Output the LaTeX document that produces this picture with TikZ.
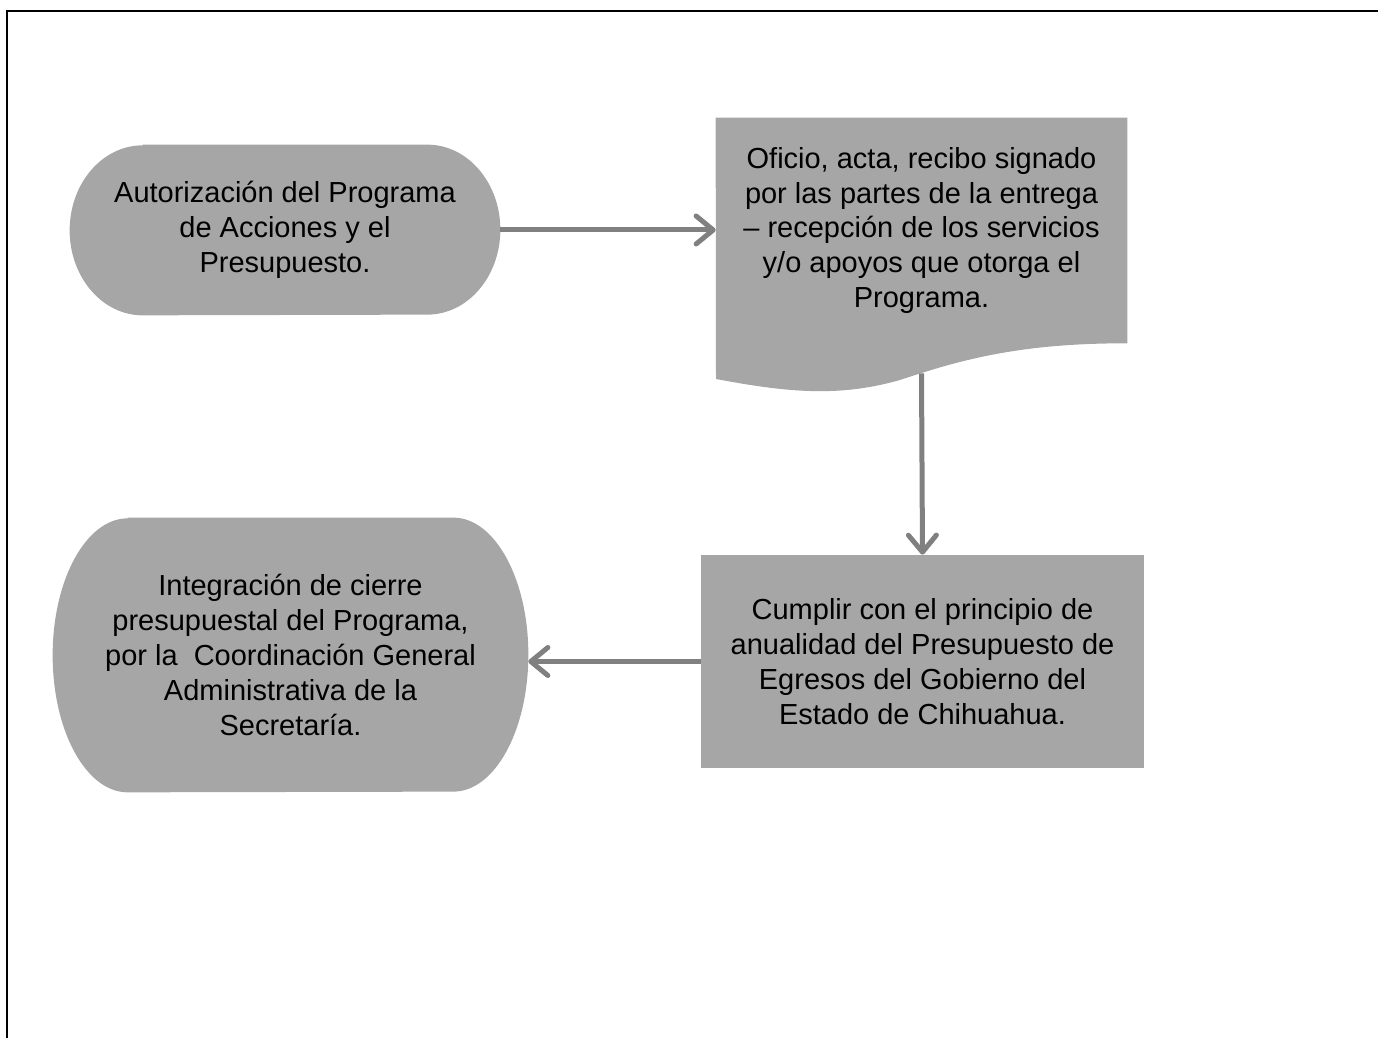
\documentclass[tikz,border=0pt]{standalone}
\usepackage{fontspec}
\setmainfont{Liberation Sans}
\usetikzlibrary{arrows.meta,backgrounds}
\definecolor{boxgray}{HTML}{A6A6A6}
\definecolor{arrowgray}{HTML}{808080}
\tikzset{
  flowtext/.style={rectangle,align=center,inner sep=0pt,font=\fontsize{16.5}{19.8}\selectfont},
  flowarrow/.style={draw=arrowgray,line width=0.1cm,-{Straight Barb[length=3.4mm,width=5.6mm,round]}}
}
% terminal: flat top and bottom, half-ellipse ends
\newcommand{\termfill}[3]{%
  \fill[boxgray] ([xshift=#2]#1.north west) -- ([xshift=-#2]#1.north east)
    arc[start angle=90,end angle=-90,x radius=#2,y radius=#3]
    -- ([xshift=#2]#1.south west)
    arc[start angle=270,end angle=90,x radius=#2,y radius=#3] -- cycle;}

\begin{document}
\begin{tikzpicture}
    \useasboundingbox (0,0) rectangle (27.56,20.76);
    \draw[line width=0.05cm] (0.14,0) -- (0.14,20.54) -- (27.56,20.54);

    \node (aut) at (5.70,16.16) [flowtext,minimum width=8.6cm,minimum height=3.4cm]
      {Autorización del Programa\\de Acciones y el\\Presupuesto.};
    \node (ofi) at (18.43,16.15) [flowtext,minimum width=8.22cm,minimum height=4.5cm]
      {Oficio, acta, recibo signado\\por las partes de la entrega\\– recepción de los servicios\\y/o apoyos que otorga el\\Programa.};
    \node (cum) at (18.45,7.53) [flowtext,minimum width=8.86cm,minimum height=4.26cm,fill=boxgray]
      {Cumplir con el principio de\\anualidad del Presupuesto de\\Egresos del Gobierno del\\Estado de Chihuahua.};
    \node (int) at (5.81,7.66) [flowtext,minimum width=9.5cm,minimum height=5.48cm]
      {Integración de cierre\\presupuestal del Programa,\\por la\ \ Coordinación General\\Administrativa de la\\Secretaría.};

    \begin{scope}[on background layer]
      \termfill{aut}{1.46cm}{1.7cm}
      \termfill{int}{1.5cm}{2.74cm}
      \fill[boxgray] (ofi.north west) -- (ofi.north east) -- (ofi.south east)
        .. controls (20.40,13.90) and (19.20,13.56) .. (18.00,13.16)
        .. controls (16.80,12.82) and (15.80,12.90) .. (14.32,13.18) -- cycle;
    \end{scope}

    \draw[flowarrow] (aut.east) -- (aut.east -| ofi.west);
    \draw[flowarrow] ([yshift=-0.6cm]ofi.south) -- (cum.north);
    \draw[flowarrow] (cum.west) -- (cum.west -| int.east);
\end{tikzpicture}
\end{document}
